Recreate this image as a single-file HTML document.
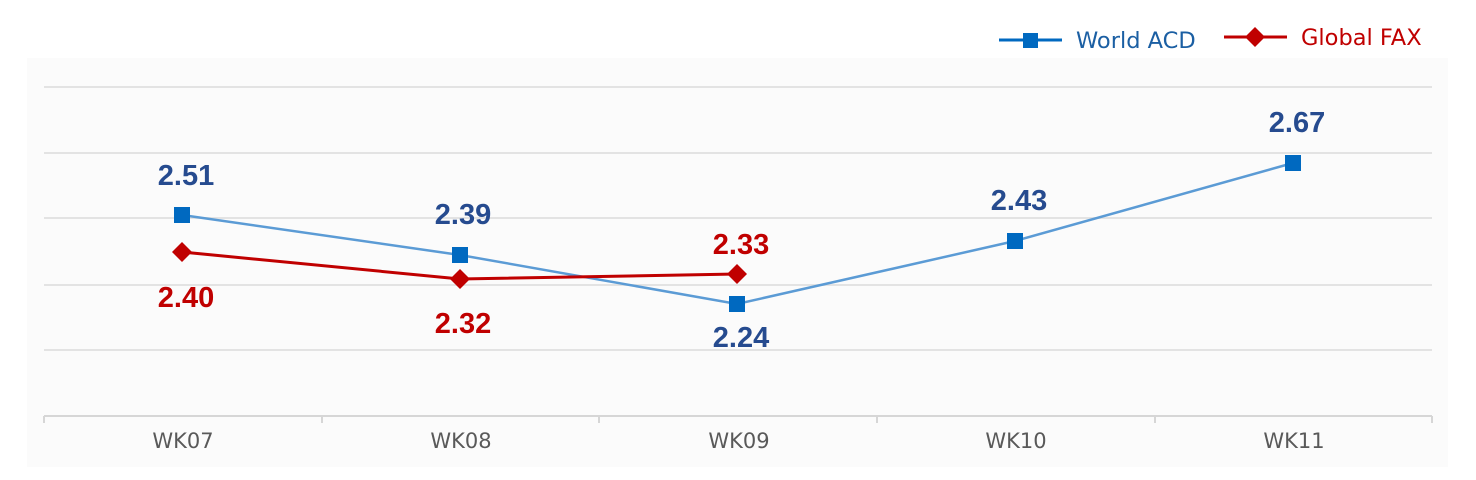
<!DOCTYPE html>
<html><head><meta charset="utf-8"><style>html,body{margin:0;padding:0;background:#fff;}svg{display:block}</style></head>
<body>
<svg width="1476" height="480" viewBox="0 0 1476 480" xmlns="http://www.w3.org/2000/svg">
<rect x="27" y="58" width="1421" height="409" fill="#fbfbfb"/>
<g stroke="#e3e3e3" stroke-width="2" fill="none">
<line x1="44" y1="87" x2="1432" y2="87"/>
<line x1="44" y1="153" x2="1432" y2="153"/>
<line x1="44" y1="218" x2="1432" y2="218"/>
<line x1="44" y1="285" x2="1432" y2="285"/>
<line x1="44" y1="350" x2="1432" y2="350"/>
</g>
<g stroke="#d6d6d6" stroke-width="2" fill="none">
<line x1="44" y1="416" x2="1432" y2="416"/>
<line x1="44" y1="416" x2="44" y2="423"/>
<line x1="322" y1="416" x2="322" y2="423"/>
<line x1="599" y1="416" x2="599" y2="423"/>
<line x1="877" y1="416" x2="877" y2="423"/>
<line x1="1155" y1="416" x2="1155" y2="423"/>
<line x1="1432" y1="416" x2="1432" y2="423"/>
</g>
<g font-family="'DejaVu Sans','Liberation Sans',sans-serif" font-size="21" fill="#595959" text-anchor="middle">
<text x="183" y="448">WK07</text><text x="461" y="448">WK08</text><text x="739" y="448">WK09</text><text x="1016" y="448">WK10</text><text x="1294" y="448">WK11</text>
</g>
<polyline points="182,215 460,255 737,304 1015,241 1293,163" fill="none" stroke="#5b9bd5" stroke-width="2.5"/>
<g fill="#0069c0">
<rect x="174" y="207" width="16" height="16"/><rect x="452" y="247" width="16" height="16"/><rect x="729" y="296" width="16" height="16"/><rect x="1007" y="233" width="16" height="16"/><rect x="1285" y="155" width="16" height="16"/>
</g>
<polyline points="182,252 460,279 737,274" fill="none" stroke="#c00000" stroke-width="3"/>
<g fill="#c00000">
<polygon points="182,242 192,252 182,262 172,252"/><polygon points="460,269 470,279 460,289 450,279"/><polygon points="737,264 747,274 737,284 727,274"/>
</g>
<g font-family="'Liberation Sans',sans-serif" font-size="29" font-weight="bold" text-anchor="middle">
<g fill="#264b8f">
<text x="186" y="185">2.51</text><text x="463" y="224">2.39</text><text x="741" y="347">2.24</text><text x="1019" y="210">2.43</text><text x="1297" y="132">2.67</text>
</g>
<g fill="#c00000">
<text x="186" y="307">2.40</text><text x="463" y="333">2.32</text><text x="741" y="254">2.33</text>
</g>
</g>
<line x1="999" y1="40" x2="1062" y2="40" stroke="#0069c0" stroke-width="3"/>
<rect x="1023" y="33" width="15" height="15" fill="#0069c0"/>
<text x="1076" y="48" font-family="'DejaVu Sans','Liberation Sans',sans-serif" font-size="22.5" fill="#1b5fa3">World ACD</text>
<line x1="1224" y1="37" x2="1287" y2="37" stroke="#c00000" stroke-width="3"/>
<polygon points="1255,27 1265,37 1255,47 1245,37" fill="#c00000"/>
<text x="1301" y="45" font-family="'DejaVu Sans','Liberation Sans',sans-serif" font-size="22.5" fill="#c00000">Global FAX</text>
</svg>
</body></html>
